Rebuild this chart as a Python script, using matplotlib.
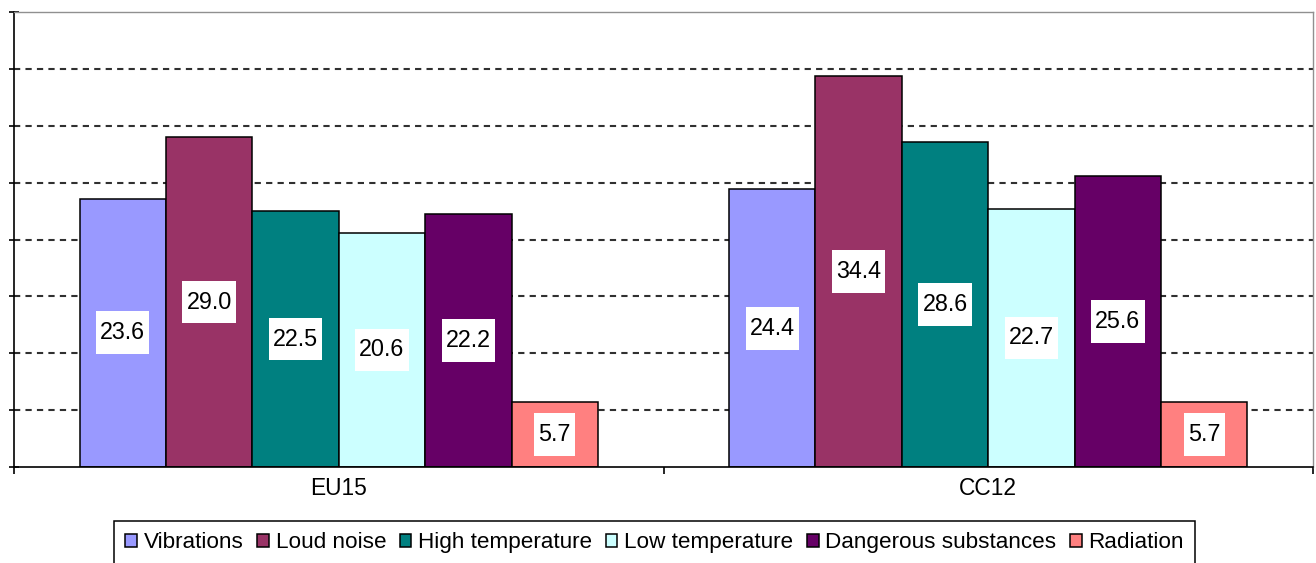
import matplotlib
matplotlib.use("Agg")
import matplotlib.pyplot as plt
import numpy as np
from matplotlib.path import Path

plt.rcParams['font.family'] = ['Liberation Sans', 'DejaVu Sans']

# Data
regions = ["EU15", "CC12"]
hazards = ["Vibrations", "Loud noise", "High temperature", "Low temperature",
           "Dangerous substances", "Radiation"]
eu15 = [23.6, 29.0, 22.5, 20.6, 22.2, 5.7]
cc12 = [24.4, 34.4, 28.6, 22.7, 25.6, 5.7]
colors = ["#9999FF", "#993366", "#008080", "#CCFFFF", "#660066", "#FF8080"]
y_ticks = list(range(0, 45, 5))

values = np.array([eu15, cc12])  # rows: regions, cols: hazards


def label_box(x0, y0, width, height, mutation_size):
    """Plain rectangle with separate horizontal and vertical padding."""
    px = 0.18 * mutation_size
    py = 0.42 * mutation_size
    x0, y0 = x0 - px, y0 - py
    x1, y1 = x0 + width + 2 * px, y0 + height + 2 * py
    return Path([(x0, y0), (x1, y0), (x1, y1), (x0, y1), (x0, y0)], closed=True)


W, H = 1316, 563
fig = plt.figure(figsize=(W / 100, H / 100), dpi=100)
ax = fig.add_axes([14 / W, (H - 467) / H, 1299 / W, 455 / H])

x = np.arange(len(regions))
bar_w = 0.133
n = len(hazards)
for i, (name, col) in enumerate(zip(hazards, colors)):
    xs = x + (i - (n - 1) / 2) * bar_w
    vals = values[:, i]
    ax.bar(xs, vals, width=bar_w, color=col, edgecolor="black",
           linewidth=1.1, label=name, zorder=2)
    for xi, v in zip(xs, vals):
        ax.text(xi, v / 2, f"{v:.1f}", ha="center", va="center",
                fontsize=16.8, color="black", zorder=4,
                bbox=dict(boxstyle=label_box, fc="white", ec="none"))

ax.set_xlim(-0.5, len(regions) - 0.5)
ax.set_ylim(0, 40)
ax.set_yticks(y_ticks)
ax.set_yticklabels([])
ax.tick_params(axis="y", direction="inout", length=7, width=1.2, color="black")

# Category labels on major ticks, boundary ticks on minor ticks
ax.set_xticks(x)
ax.set_xticklabels(regions, fontsize=16.4)
ax.set_xticks(np.arange(-0.5, len(regions), 1.0), minor=True)
ax.tick_params(axis="x", which="major", length=0, pad=7)
ax.tick_params(axis="x", which="minor", direction="out", length=5,
               width=1.2, color="black")

ax.set_axisbelow(True)
for yv in y_ticks[1:-1]:
    ax.axhline(yv, color="#303030", linewidth=1.5, linestyle=(0, (3, 2.5)),
               zorder=1)

ax.spines["left"].set_color("black")
ax.spines["left"].set_linewidth(1.2)
ax.spines["bottom"].set_color("black")
ax.spines["bottom"].set_linewidth(1.2)
ax.spines["top"].set_color("#909090")
ax.spines["right"].set_color("#909090")
ax.spines["top"].set_linewidth(1.0)
ax.spines["right"].set_linewidth(1.0)

leg = fig.legend(loc="upper left", bbox_to_anchor=(114 / W, 1 - 521 / H),
                 ncol=6, fontsize=16.2, frameon=True, fancybox=False,
                 framealpha=1, edgecolor="black", borderaxespad=0,
                 handlelength=0.52, handleheight=0.52, handletextpad=0.3,
                 columnspacing=0.6, borderpad=0.5)
leg.get_frame().set_linewidth(1.1)

fig.savefig("out.png", dpi=100)
